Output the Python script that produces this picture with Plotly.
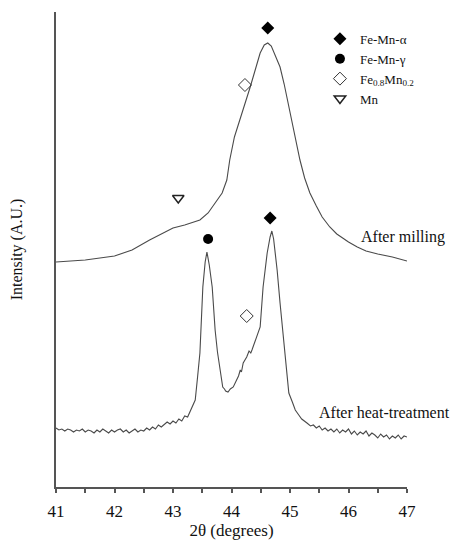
import plotly.graph_objects as go

# After milling (smooth broad pattern)
mill_2theta = [41.0, 41.5, 42.0, 42.3, 42.6, 42.8, 43.0, 43.2, 43.35, 43.46, 43.6, 43.75,
               43.84, 43.92, 43.97, 44.05, 44.2, 44.32, 44.4, 44.49, 44.56, 44.62, 44.68,
               44.75, 44.83, 44.9, 45.0, 45.1, 45.17, 45.25, 45.34, 45.45, 45.55, 45.68,
               45.8, 45.9, 46.0, 46.15, 46.3, 46.5, 46.75, 47.0]
mill_int = [225, 227, 231, 237, 247, 253, 259, 262, 265, 267, 274, 287,
            294, 307, 327, 350, 377, 400, 416, 434, 442, 444, 441,
            432, 420, 403, 374, 347, 327, 309, 294, 281, 270, 260,
            253, 249, 245, 240, 236, 233, 230, 226]

# After heat-treatment (noisy pattern)
heat_2theta = [41.00, 41.05, 41.10, 41.15, 41.20, 41.25, 41.30, 41.35, 41.40, 41.45,
               41.50, 41.55, 41.60, 41.65, 41.70, 41.75, 41.80, 41.85, 41.90, 41.95,
               42.00, 42.05, 42.10, 42.15, 42.20, 42.25, 42.30, 42.35, 42.40, 42.45,
               42.50, 42.55, 42.60, 42.65, 42.70, 42.75, 42.80, 42.85, 42.90, 42.95,
               43.00, 43.05, 43.10, 43.15, 43.20, 43.25, 43.30, 43.38, 43.42, 43.46,
               43.51, 43.55, 43.58, 43.62, 43.67, 43.72, 43.76, 43.80, 43.85, 43.88,
               43.90, 43.94, 43.98, 44.03, 44.06, 44.08, 44.12, 44.15, 44.17, 44.20,
               44.24, 44.26, 44.30, 44.33, 44.35, 44.40, 44.44, 44.49, 44.54, 44.61,
               44.66, 44.69, 44.72, 44.78, 44.83, 44.91, 44.98, 45.04, 45.09, 45.15,
               45.20, 45.29, 45.35, 45.40, 45.45, 45.50, 45.55, 45.60, 45.65, 45.70,
               45.75, 45.80, 45.85, 45.90, 45.95, 46.00, 46.05, 46.10, 46.15, 46.20,
               46.25, 46.30, 46.35, 46.40, 46.45, 46.50, 46.55, 46.60, 46.65, 46.70,
               46.75, 46.80, 46.85, 46.90, 46.95, 47.00]
heat_int = [59, 57, 58, 56, 58, 57, 55, 57, 56, 58,
            55, 57, 56, 54, 57, 55, 58, 56, 54, 57,
            55, 57, 58, 55, 57, 54, 56, 58, 55, 57,
            56, 59, 57, 60, 58, 62, 60, 63, 65, 63,
            66, 64, 68, 66, 71, 70, 76, 87, 110, 134,
            200, 225, 235, 222, 200, 157, 135, 117, 100, 98,
            96, 95, 98, 100, 104, 106, 111, 117, 115, 124,
            128, 130, 136, 134, 137, 145, 150, 160, 200, 234,
            250, 256, 248, 217, 184, 134, 94, 85, 77, 72,
            68, 64, 61, 62, 59, 61, 57, 59, 56, 58,
            55, 58, 54, 57, 55, 58, 53, 56, 52, 55,
            53, 56, 51, 54, 52, 49, 53, 50, 52, 48,
            51, 49, 52, 48, 51, 50]

# Phase markers
alpha_2theta = [44.62, 44.66]
alpha_int = [459, 269]
gamma_2theta = [43.60]
gamma_int = [248]
fe08_2theta = [44.23, 44.26]
fe08_int = [402, 171]
mn_2theta = [43.09]
mn_int = [289]

# tick positions (majors labelled, half-degree minors blank)
x_tick_vals = [41, 41.5, 42, 42.5, 43, 43.5, 44, 44.5, 45, 45.5, 46, 46.5, 47]
x_tick_text = ["41", "", "42", "", "43", "", "44", "", "45", "", "46", "", "47"]
curve_labels = ["After milling", "After heat-treatment"]

FONT = "Liberation Serif"
LINE = "#4a4a4a"
AXC = "#555555"
TXT = "#111111"

fig = go.Figure()
fig.add_trace(go.Scatter(x=mill_2theta, y=mill_int, mode="lines",
                         line=dict(color=LINE, width=1.1),
                         showlegend=False, hoverinfo="skip"))
fig.add_trace(go.Scatter(x=heat_2theta, y=heat_int, mode="lines",
                         line=dict(color=LINE, width=1.1),
                         showlegend=False, hoverinfo="skip"))

fig.add_trace(go.Scatter(x=alpha_2theta, y=alpha_int, mode="markers", name="Fe-Mn-α",
                         marker=dict(symbol="diamond", size=10, color="black")))
fig.add_trace(go.Scatter(x=gamma_2theta, y=gamma_int, mode="markers", name="Fe-Mn-γ",
                         marker=dict(symbol="circle", size=10, color="black")))
fig.add_trace(go.Scatter(x=fe08_2theta, y=fe08_int, mode="markers",
                         name="Fe<sub>0.8</sub>Mn<sub>0.2</sub>",
                         marker=dict(symbol="diamond-open", size=10, color="#333333",
                                     line=dict(width=1))))
fig.add_trace(go.Scatter(x=mn_2theta, y=mn_int, mode="markers", name="Mn",
                         marker=dict(symbol="triangle-down-open", size=10, color="#222222",
                                     line=dict(width=1.5))))

fig.add_annotation(x=1.114, y=0.526, xref="paper", yref="paper", text=curve_labels[0],
                   showarrow=False, xanchor="right", yanchor="middle",
                   font=dict(family=FONT, size=16, color=TXT))
fig.add_annotation(x=0.744, y=0.156, xref="paper", yref="paper", text=curve_labels[1],
                   showarrow=False, xanchor="left", yanchor="middle",
                   font=dict(family=FONT, size=16, color=TXT))

fig.update_xaxes(range=[41, 47], tickmode="array", tickvals=x_tick_vals, ticktext=x_tick_text,
                 ticks="outside", ticklen=4, tickcolor=AXC, tickwidth=1.5,
                 ticklabelstandoff=4, automargin=False,
                 showline=True, linecolor=AXC, linewidth=1.5,
                 showgrid=False, zeroline=False,
                 tickfont=dict(family=FONT, size=17, color=TXT),
                 title=dict(text="2θ (degrees)", font=dict(family=FONT, size=17, color=TXT),
                            standoff=8))
fig.update_yaxes(range=[0, 475], showticklabels=False, ticks="", automargin=False,
                 showline=True, linecolor=AXC, linewidth=1.5,
                 showgrid=False, zeroline=False,
                 title=dict(text="Intensity (A.U.)", font=dict(family=FONT, size=16, color=TXT),
                            standoff=28))

fig.update_layout(width=450, height=540, margin=dict(l=56, r=43, t=12, b=53),
                  paper_bgcolor="white", plot_bgcolor="white",
                  showlegend=True,
                  legend=dict(x=0.752, y=0.975, xanchor="left", yanchor="top",
                              font=dict(family=FONT, size=13, color=TXT)))

fig.write_html("out.html")
